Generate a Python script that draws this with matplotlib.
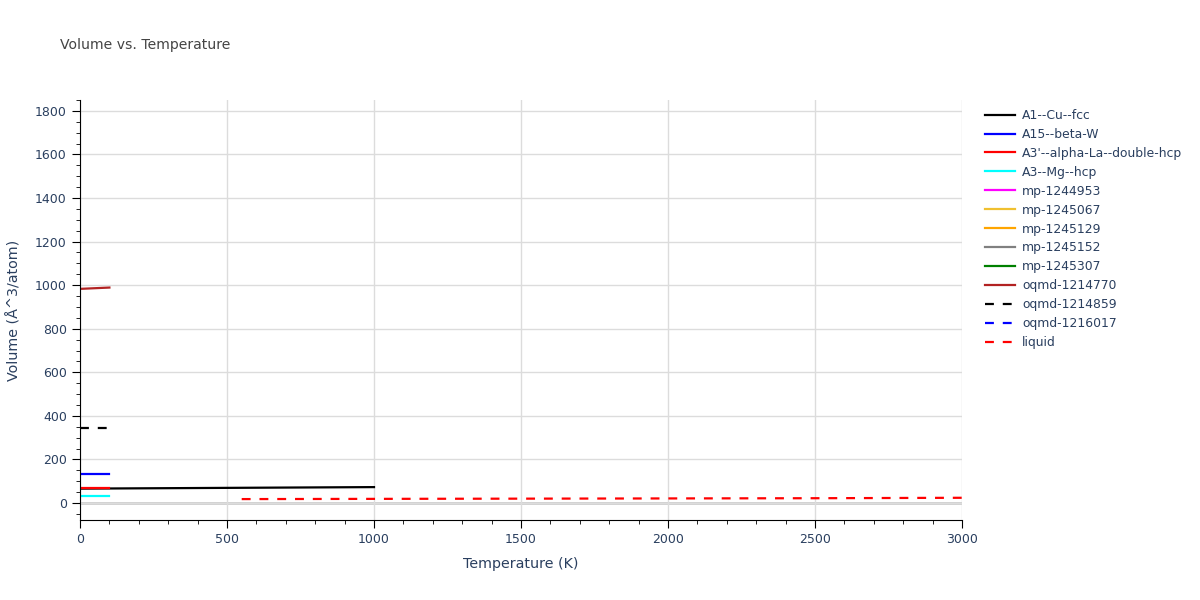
import matplotlib
matplotlib.use("Agg")
import matplotlib.pyplot as plt
from matplotlib.ticker import MultipleLocator

plt.rcParams["font.family"] = ["DejaVu Sans"]

labels = ["A1--Cu--fcc", "A15--beta-W", "A3'--alpha-La--double-hcp", "A3--Mg--hcp",
          "mp-1244953", "mp-1245067", "mp-1245129", "mp-1245152", "mp-1245307",
          "oqmd-1214770", "oqmd-1214859", "oqmd-1216017", "liquid"]
colors = ["black", "blue", "red", "cyan", "magenta", "#f0c030", "orange", "gray",
          "green", "#b22222", "black", "blue", "red"]
dashed = [False]*10 + [True, True, True]

temps = [
    [0, 1000],
    [0, 100],
    [0, 100],
    [0, 100],
    [], [], [], [], [],
    [0, 100],
    [0, 100],
    [],
    [550, 1000, 1500, 2000, 2500, 3000],
]
vols = [
    [66, 73],
    [133, 133],
    [67, 67],
    [34, 34],
    [], [], [], [], [],
    [983, 989],
    [343, 343],
    [],
    [18, 19, 20, 21, 22, 24],
]

fig = plt.figure(figsize=(12, 6), dpi=100)
ax = fig.add_axes([80/1200, 1-520/600, (962-80)/1200, 420/600])
txt = "#2a3f5f"
for t, v, c, d, l in zip(temps, vols, colors, dashed, labels):
    ax.plot(t, v, color=c, lw=1.6, ls=(0, (4.0, 4.0)) if d else "-", label=l)

ax.set_xlim(0, 3000)
ax.set_ylim(-78, 1850)
ax.xaxis.set_major_locator(MultipleLocator(500))
ax.xaxis.set_minor_locator(MultipleLocator(100))
ax.yaxis.set_major_locator(MultipleLocator(200))
ax.yaxis.set_minor_locator(MultipleLocator(50))
ax.grid(True, which="major", color="#dcdcdc", lw=1)
ax.axhline(0, color="#cccccc", lw=2, zorder=0.5)
ax.set_axisbelow(True)
for s in ["top", "right"]:
    ax.spines[s].set_visible(False)
ax.spines["left"].set_color("black")
ax.spines["bottom"].set_color("black")
ax.tick_params(which="major", length=6, color="black", labelcolor=txt, labelsize=9)
ax.tick_params(which="minor", length=3, color="black")
ax.set_xlabel("Temperature (K)", color=txt, fontsize=10.3, labelpad=8)
ax.set_ylabel("Volume (Å^3/atom)", color=txt, fontsize=10.3, labelpad=10)
fig.text(60/1200, 1-45/600, "Volume vs. Temperature", color="#444444", fontsize=10.1, va="center")
leg = ax.legend(loc="upper left", bbox_to_anchor=(980/1200, 1-104/600), bbox_transform=fig.transFigure,
                frameon=False, fontsize=8.9, handlelength=2.4, labelspacing=0.48, handletextpad=0.6,
                borderaxespad=0)
for t in leg.get_texts():
    t.set_color(txt)
fig.savefig("out.png", dpi=100)
